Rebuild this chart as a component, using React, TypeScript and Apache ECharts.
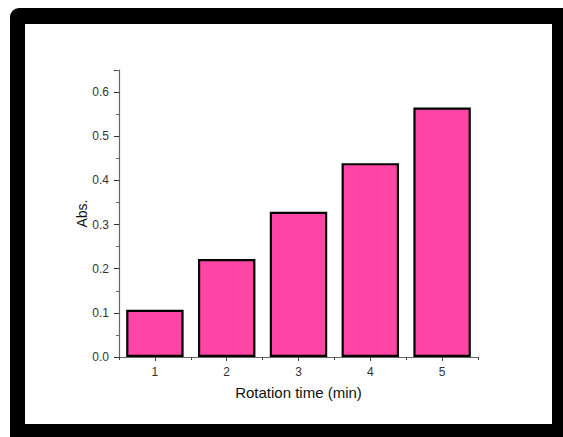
import React, { useEffect, useRef } from "react";
import * as echarts from "echarts";

const categories = ["1", "2", "3", "4", "5"];
const absValues = [0.107, 0.222, 0.329, 0.439, 0.565];
const yTicks = { min: 0, max: 0.65, interval: 0.1 };
const xName = "Rotation time (min)";
const yName = "Abs.";

export default function App() {
  const ref = useRef<HTMLDivElement>(null);
  useEffect(() => {
    document.body.style.margin = "0";
    const chart = echarts.init(ref.current!, null, { renderer: "svg" });
    const font = "'Liberation Sans', Arial, sans-serif";
    chart.setOption({
      animation: false,
      backgroundColor: "#fff",
      graphic: [
        {
          type: "rect",
          z: -10,
          silent: true,
          shape: { x: 10, y: 8, width: 600, height: 500, r: [9, 0, 0, 0] },
          style: { fill: "#000" },
        },
        {
          type: "rect",
          z: -9,
          silent: true,
          shape: { x: 25, y: 24, width: 527, height: 400 },
          style: { fill: "#fff" },
        },
      ],
      grid: { left: 119, right: 85, top: 70, bottom: 80 },
      xAxis: [
        {
          type: "category",
          data: categories,
          name: xName,
          nameLocation: "middle",
          nameGap: 28,
          nameMoveOverlap: false,
          nameTextStyle: { fontFamily: font, fontSize: 15, color: "#111" },
          axisLine: { lineStyle: { color: "#666", width: 1.2 } },
          axisTick: { show: true, alignWithLabel: false, inside: false, length: 3, lineStyle: { color: "#444" } },
          axisLabel: { fontFamily: font, fontSize: 12, color: "#333", margin: 9 },
          splitLine: { show: false },
        },
        {
          type: "category",
          data: categories,
          position: "bottom",
          axisLine: { show: false },
          axisTick: { show: true, alignWithLabel: true, length: 4, lineStyle: { color: "#444" } },
          axisLabel: { show: false },
          splitLine: { show: false },
        },
      ],
      yAxis: {
        type: "value",
        min: yTicks.min,
        max: yTicks.max,
        interval: yTicks.interval,
        name: yName,
        nameLocation: "middle",
        nameGap: 30,
        nameMoveOverlap: false,
        nameTextStyle: { fontFamily: font, fontSize: 14, color: "#111" },
        axisLine: { show: true, lineStyle: { color: "#666", width: 1.2 } },
        axisTick: { show: true, length: 5, lineStyle: { color: "#333" } },
        minorTick: { show: true, splitNumber: 2, length: 3, lineStyle: { color: "#666" } },
        axisLabel: {
          fontFamily: font,
          fontSize: 12,
          color: "#333",
          margin: 10,
          formatter: (v: number) => v.toFixed(1),
          showMaxLabel: false,
        },
        splitLine: { show: false },
      },
      series: [
        {
          type: "bar",
          data: absValues,
          barCategoryGap: "20%",
          itemStyle: { color: "#FF45A6", borderColor: "#000", borderWidth: 2.2 },
        },
      ],
    });
    return () => chart.dispose();
  }, []);
  return (
    <div
      ref={ref}
      style={{ position: "absolute", left: 0, top: 0, width: 563, height: 437 }}
    />
  );
}
